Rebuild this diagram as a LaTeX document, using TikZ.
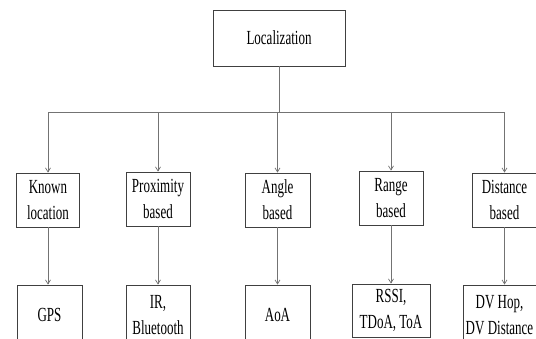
\documentclass[tikz,border=0pt]{standalone}
\usepackage{fontspec}
\setmainfont{Liberation Serif}[FakeStretch=0.65]
\usetikzlibrary{arrows.meta}

\begin{document}
\begin{tikzpicture}[>={Straight Barb[length=4pt,width=5pt]}, x=1pt, y=-1pt,
    box/.style={draw=black!75, line width=0.9pt, align=center, inner sep=0pt,
      minimum height=54pt, font=\fontsize{20}{26}\selectfont},
    link/.style={draw=black!55, line width=0.7pt}]
  \useasboundingbox (0,0) rectangle (536,338);
  \clip (0,0) rectangle (536,338);
  \node[box, minimum width=132pt, minimum height=56pt] (loc) at (279,38) {Localization};
  \coordinate (bus) at (279,112);
  % second row
  \node[box, minimum width=63pt] (known) at (48,200) {Known\\location};
  \node[box, minimum width=64pt] (prox) at (158,199) {Proximity\\based};
  \node[box, minimum width=65pt] (angle) at (277.5,200) {Angle\\based};
  \node[box, minimum width=64pt] (range) at (391,198) {Range\\based};
  \node[box, minimum width=65pt] (dist) at (504.5,200) {Distance\\based};
  % third row
  \node[box, minimum width=65pt, minimum height=60pt] (gps) at (49.5,315) {GPS};
  \node[box, minimum width=64pt, minimum height=60pt] (ir) at (158,315) {IR,\\Bluetooth};
  \node[box, minimum width=65pt, minimum height=60pt] (aoa) at (277.5,315) {AoA};
  \node[box, minimum width=78pt, minimum height=53pt] (rssi) at (391,310.5) {RSSI,\\TDoA, ToA};
  \node[box, minimum width=73pt, minimum height=60pt] (dv) at (499.5,315) {DV Hop,\\DV Distance};
  % connectors
  \draw[link] (loc.south) -- (bus);
  \draw[link] (known.north |- bus) -- (dist.north |- bus);
  \foreach \n in {known,prox,angle,range,dist}
    \draw[link,->] (\n.north |- bus) -- (\n.north);
  \foreach \a/\b in {known/gps,prox/ir,angle/aoa,range/rssi,dist/dv}
    \draw[link,->] (\a.south) -- (\a.south |- \b.north);
\end{tikzpicture}
\end{document}
